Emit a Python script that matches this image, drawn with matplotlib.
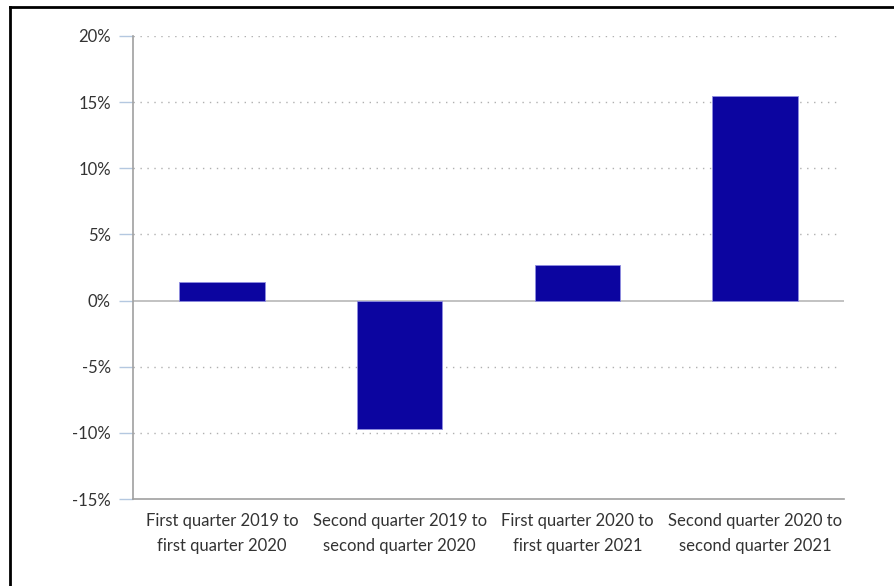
import matplotlib
matplotlib.use("Agg")
import matplotlib.pyplot as plt
from matplotlib.lines import Line2D
from matplotlib.ticker import FuncFormatter

categories = [
    "First quarter 2019 to\nfirst quarter 2020",
    "Second quarter 2019 to\nsecond quarter 2020",
    "First quarter 2020 to\nfirst quarter 2021",
    "Second quarter 2020 to\nsecond quarter 2021",
]
changes = [1.4, -9.7, 2.7, 15.5]
y_ticks = [-15, -10, -5, 0, 5, 10, 15, 20]

plt.rcParams["font.family"] = ["Lato", "DejaVu Sans"]

fig = plt.figure(figsize=(8.95, 5.86), dpi=100)
ax = fig.add_axes([133 / 895, 1 - 499 / 586, (844 - 133) / 895, (499 - 36) / 586])

x = list(range(len(categories)))
ax.bar(x, changes, width=0.48, color="#0c05a0", edgecolor="#8f8de0",
       linewidth=0.6, zorder=3)

ax.set_xlim(-0.5, 3.5)
ax.set_ylim(-15, 20)
ax.set_yticks(y_ticks)
ax.yaxis.set_major_formatter(FuncFormatter(lambda v, _: f"{v:.0f}%"))

# dotted horizontal gridlines, solid zero line
for t in y_ticks:
    if t in (0, -15):
        continue
    ax.axhline(t, xmin=0, xmax=0.995, color="#b0b0b0", linestyle=(0, (1, 4)),
               linewidth=1.0, zorder=1)
ax.axhline(0, color="#b8b8b8", linewidth=1.2, zorder=2)

for side in ("top", "right"):
    ax.spines[side].set_visible(False)
ax.spines["left"].set_color("#a0a0a0")
ax.spines["bottom"].set_color("#a0a0a0")
ax.spines["left"].set_linewidth(1.2)
ax.spines["bottom"].set_linewidth(1.2)

ax.tick_params(axis="y", length=10, width=1.0, color="#b4c8e0",
               labelsize=12, labelcolor="#333333", pad=6)
ax.tick_params(axis="x", length=0, labelsize=12, labelcolor="#333333", pad=10)
ax.set_xticks(x)
ax.set_xticklabels(categories, linespacing=1.7)

# frame lines along the top and left edges
fig.add_artist(Line2D([10 / 895, 10 / 895], [0, 1 - 7 / 586], transform=fig.transFigure,
                      color="black", linewidth=2))
fig.add_artist(Line2D([10 / 895, 1], [1 - 7 / 586, 1 - 7 / 586], transform=fig.transFigure,
                      color="black", linewidth=2))

fig.savefig("out.png", dpi=100)
